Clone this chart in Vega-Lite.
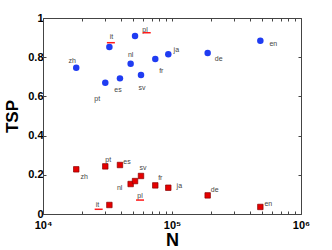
{
  "$schema": "https://vega.github.io/schema/vega-lite/v6.json",
  "width": 258,
  "height": 196,
  "autosize": {"type": "none"},
  "padding": {"left": 43, "top": 18, "right": 31, "bottom": 36},
  "background": "white",
  "config": {
    "view": {"stroke": null},
    "axis": {"grid": false, "domainColor": "#444", "tickColor": "#444", "labelFont": "Liberation Sans", "titleFont": "Liberation Sans", "labelColor": "#000", "titleColor": "#000"}
  },
  "data": {
    "values": [
      {"lang": "zh", "N": 18100, "TSP": 0.746, "group": "high"},
      {"lang": "pt", "N": 30400, "TSP": 0.670, "group": "high"},
      {"lang": "it", "N": 32700, "TSP": 0.852, "group": "high"},
      {"lang": "es", "N": 39500, "TSP": 0.692, "group": "high"},
      {"lang": "nl", "N": 47800, "TSP": 0.767, "group": "high"},
      {"lang": "pl", "N": 51700, "TSP": 0.908, "group": "high"},
      {"lang": "sv", "N": 57500, "TSP": 0.709, "group": "high"},
      {"lang": "fr", "N": 74200, "TSP": 0.791, "group": "high"},
      {"lang": "ja", "N": 93600, "TSP": 0.815, "group": "high"},
      {"lang": "de", "N": 189000, "TSP": 0.821, "group": "high"},
      {"lang": "en", "N": 484000, "TSP": 0.884, "group": "high"},
      {"lang": "zh", "N": 18100, "TSP": 0.228, "group": "low"},
      {"lang": "pt", "N": 30400, "TSP": 0.243, "group": "low"},
      {"lang": "it", "N": 32700, "TSP": 0.046, "group": "low"},
      {"lang": "es", "N": 39500, "TSP": 0.250, "group": "low"},
      {"lang": "nl", "N": 47800, "TSP": 0.153, "group": "low"},
      {"lang": "pl", "N": 51700, "TSP": 0.168, "group": "low"},
      {"lang": "sv", "N": 57500, "TSP": 0.194, "group": "low"},
      {"lang": "fr", "N": 74200, "TSP": 0.146, "group": "low"},
      {"lang": "ja", "N": 93600, "TSP": 0.134, "group": "low"},
      {"lang": "de", "N": 189000, "TSP": 0.095, "group": "low"},
      {"lang": "en", "N": 484000, "TSP": 0.036, "group": "low"}
    ]
  },
  "resolve": {"axis": {"x": "independent", "y": "independent"}},
  "layer": [
    {
      "transform": [{"filter": "datum.group == 'high'"}],
      "mark": {"type": "point", "shape": "circle", "filled": true, "color": "#1f3cf2", "opacity": 1, "size": 42},
      "encoding": {
        "x": {"field": "N", "type": "quantitative", "scale": {"type": "log", "domain": [10000, 1000000], "nice": false},
          "axis": {"orient": "top", "title": null, "labels": false, "tickSize": -3, "values": [10000, 20000, 30000, 40000, 50000, 60000, 70000, 80000, 90000, 100000, 200000, 300000, 400000, 500000, 600000, 700000, 800000, 900000, 1000000]}},
        "y": {"field": "TSP", "type": "quantitative", "scale": {"domain": [0, 1], "nice": false},
          "axis": {"orient": "right", "title": null, "labels": false, "tickSize": -3, "values": [0, 0.2, 0.4, 0.6, 0.8, 1]}}
      }
    },
    {
      "transform": [{"filter": "datum.group == 'low'"}],
      "mark": {"type": "point", "shape": "square", "filled": true, "color": "#e60000", "stroke": "#8a0000", "strokeWidth": 0.7, "opacity": 1, "size": 30},
      "encoding": {
        "x": {"field": "N", "type": "quantitative", "scale": {"type": "log", "domain": [10000, 1000000], "nice": false},
          "axis": {"orient": "bottom", "title": "N", "titleFontSize": 18, "titleFontWeight": "bold", "titlePadding": 1, "labelFontSize": 11, "labelFontWeight": "bold", "labelPadding": 8, "tickSize": -3, "labelFlush": false,
            "values": [10000, 20000, 30000, 40000, 50000, 60000, 70000, 80000, 90000, 100000, 200000, 300000, 400000, 500000, 600000, 700000, 800000, 900000, 1000000],
            "labelExpr": "datum.value == 10000 ? '10⁴' : datum.value == 100000 ? '10⁵' : datum.value == 1000000 ? '10⁶' : ''"}},
        "y": {"field": "TSP", "type": "quantitative", "scale": {"domain": [0, 1], "nice": false},
          "axis": {"orient": "left", "title": "TSP", "titleFontSize": 17, "titleFontWeight": "bold", "titlePadding": 6, "labelFontSize": 11, "labelFontWeight": "bold", "labelPadding": 3, "tickSize": -3, "labelFlush": false,
            "values": [0, 0.2, 0.4, 0.6, 0.8, 1],
            "labelExpr": "datum.value == 0 ? '0' : datum.value == 1 ? '1' : format(datum.value, '.1f')"}}
      }
    },
    {
      "mark": {"type": "text", "font": "Liberation Sans", "fontSize": 7, "fill": "#444444", "align": "center", "baseline": "middle",
        "dx": {"expr": "({'high-zh':-4,'high-pt':-8,'high-it':2,'high-es':-2,'high-nl':0,'high-pl':10,'high-sv':1,'high-fr':6,'high-ja':8,'high-de':11,'high-en':13,'low-zh':8,'low-pt':3,'low-it':-12,'low-es':7,'low-nl':-11,'low-pl':5,'low-sv':2,'low-fr':5,'low-ja':11,'low-de':7,'low-en':8})[datum.group + '-' + datum.lang]"},
        "dy": {"expr": "({'high-zh':-7,'high-pt':16,'high-it':-10,'high-es':12,'high-nl':-9,'high-pl':-6,'high-sv':13,'high-fr':12,'high-ja':-4,'high-de':6,'high-en':3,'low-zh':8,'low-pt':-6,'low-it':0,'low-es':-3,'low-nl':4,'low-pl':15,'low-sv':-8,'low-fr':-7,'low-ja':-2,'low-de':-5,'low-en':-3})[datum.group + '-' + datum.lang]"}},
      "encoding": {
        "x": {"field": "N", "type": "quantitative", "scale": {"type": "log", "domain": [10000, 1000000], "nice": false}, "axis": null},
        "y": {"field": "TSP", "type": "quantitative", "scale": {"domain": [0, 1], "nice": false}, "axis": null},
        "text": {"field": "lang"}
      }
    },
    {
      "transform": [{"filter": "datum.lang == 'it' || datum.lang == 'pl'"}],
      "mark": {"type": "tick", "orient": "horizontal", "color": "#ff1a1a", "size": 8, "thickness": 1.5, "opacity": 1,
        "xOffset": {"expr": "({'high-it':1.5,'high-pl':11.7,'low-it':-10.7,'low-pl':5})[datum.group + '-' + datum.lang]"},
        "yOffset": {"expr": "({'high-it':-4.3,'high-pl':-3.3,'low-it':4.3,'low-pl':19})[datum.group + '-' + datum.lang]"}},
      "encoding": {
        "x": {"field": "N", "type": "quantitative", "scale": {"type": "log", "domain": [10000, 1000000], "nice": false}, "axis": null},
        "y": {"field": "TSP", "type": "quantitative", "scale": {"domain": [0, 1], "nice": false}, "axis": null}
      }
    }
  ]
}
